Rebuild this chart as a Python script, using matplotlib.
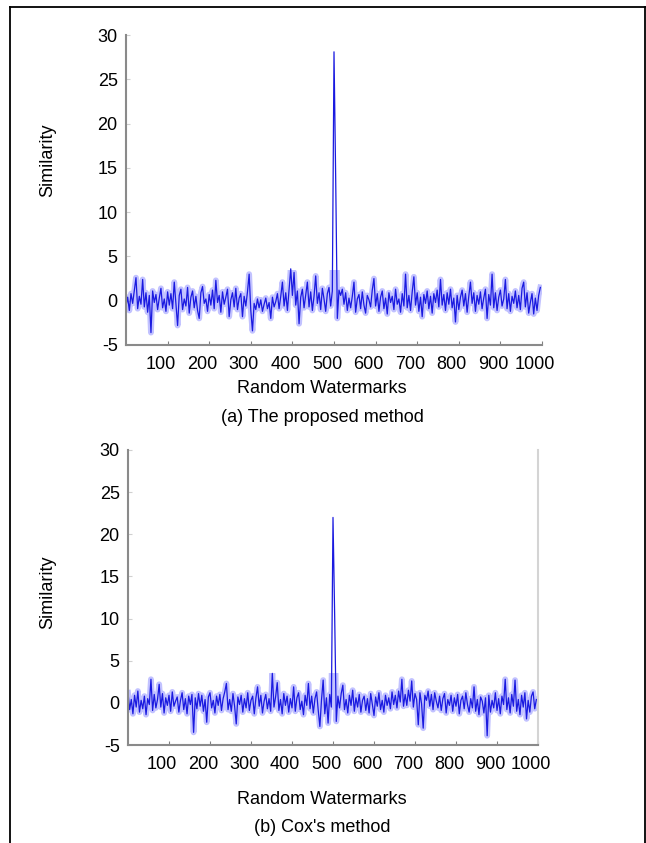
import numpy as np
import matplotlib
matplotlib.use("Agg")
import matplotlib.pyplot as plt
import matplotlib.transforms as mtransforms
from matplotlib.lines import Line2D
from matplotlib.patches import Rectangle

plt.rcParams['font.family'] = ['Liberation Sans', 'DejaVu Sans']
plt.rcParams['axes.unicode_minus'] = False

# similarity of each random watermark (every 4th watermark)
similitud_propuesto = [
    -0.6, 0.4, -1.1, 0.8, -0.3, 1.2, 2.6, -0.9, 0.5, -0.4,
    2.4, -0.7, 0.9, -1.3, 0.6, -3.6, 1.1, -0.2, 0.7, -1.0,
    0.3, 1.4, -0.8, 0.2, -1.2, 1.0, -0.5, 0.8, -0.9, 2.1,
    -0.4, -2.8, 0.6, 1.3, -1.0, 0.2, -0.6, 1.5, -1.4, 0.4,
    1.1, -0.8, 0.5, -1.1, -2.0, 0.9, 1.6, -0.3, 0.2, -1.2,
    0.7, -0.5, 1.2, -0.9, 2.3, -0.2, 0.6, -1.3, 1.0, -0.4,
    0.4, 1.3, -1.8, 0.1, 0.9, -0.7, 1.4, -1.0, 0.3, 0.8,
    -1.8, 0.5, -0.6, 1.0, 3.0, -1.1, -3.4, -0.3, -1.0, 0.2,
    -0.8, 0.1, -1.2, -0.4, 0.3, -0.9, -0.2, -2.0, 0.4, -0.7,
    -0.1, 0.8, -0.9, 0.5, 2.1, -0.6, 0.9, -1.1, 1.2, 3.6,
    0.6, 3.2, -0.5, 1.1, -2.6, 0.4, 1.3, -0.8, 0.7, 2.1,
    -0.7, 1.0, -1.1, 0.5, 2.8, -0.3, 0.9, -1.0, 1.4, 0.2,
    -1.2, 0.8, 1.5, -0.6, 1.1, 28.1, 14.0, -2.0, 1.2, 0.6,
    1.3, -0.4, 0.9, -1.1, 0.3, -0.8, 0.5, 2.1, -1.3, 0.2,
    0.7, -0.9, 1.0, -0.5, -1.4, 0.6, 0.1, -0.7, 1.2, 2.5,
    -0.6, 0.8, -1.2, 0.4, 1.1, -0.9, 0.3, -1.5, 0.9, -0.2,
    0.5, -1.0, 1.3, -0.4, 0.2, -1.3, 0.8, -0.6, 3.0, -0.8,
    0.6, -1.1, 1.0, 2.7, -0.5, 0.9, -1.2, 0.4, -1.8, 0.7,
    -0.3, 1.1, -0.9, 0.5, -1.4, 0.8, -0.2, 1.2, -0.7, 2.4,
    -0.5, 0.7, -1.1, 0.9, -0.4, 1.3, -0.8, 0.3, -2.4, 0.6,
    -1.0, 0.4, 1.2, -0.6, 0.8, -1.3, 0.5, 2.1, -0.3, 0.9,
    -1.2, 0.6, -0.4, 1.0, -0.9, 0.3, 1.3, -2.0, 0.7, -0.5,
    3.0, -0.8, 0.9, -1.1, 0.4, 1.2, -0.6, 0.2, 2.4, -0.9,
    0.8, -1.2, 0.5, -0.3, 1.1, -0.8, 0.6, -1.0, 1.4, 2.1,
    -0.7, 0.9, -1.4, -0.2, 0.8, -1.5, 0.3, -1.1, 0.6, 1.5,
]

similitud_cox = [
    1.2, -0.8, 0.4, -1.3, 0.9, -0.5, 1.4, -1.1, 0.3, -0.7,
    0.8, -1.4, 0.5, -0.2, 2.8, -0.9, 1.0, -0.6, 0.4, 2.2,
    -0.5, 1.1, -1.2, 0.6, -0.3, 0.9, -1.0, 1.3, -0.4, 0.2,
    0.7, -1.1, 0.3, 1.2, -0.8, 0.5, -1.3, 0.8, -0.2, 1.0,
    -3.5, 0.6, -0.7, 1.1, -0.4, 0.9, -1.0, 0.4, -2.3, 0.7,
    1.2, -0.6, 0.3, -1.2, 0.8, -0.3, 1.0, -0.9, 0.5, 1.3,
    2.3, -0.8, 0.4, -1.0, 1.1, -0.4, -2.5, 0.7, -0.2, 0.9,
    -1.1, 0.5, -0.6, 1.2, -0.9, 0.3, 0.8, -1.3, 0.6, 1.9,
    -0.4, 0.9, -1.2, 0.2, 1.0, -0.7, 0.5, -1.0, 3.5, -0.5,
    0.7, 2.4, -0.9, 0.4, -1.3, 1.1, -0.3, 0.8, -1.1, 0.5,
    -0.6, 1.9, -1.0, 0.6, 1.2, -0.8, 0.2, -1.4, 0.9, -0.3,
    2.3, -0.7, 0.8, -1.2, 0.5, 1.3, -0.9, -2.8, 0.4, 2.7,
    -1.3, 0.6, -2.4, 1.0, -0.5, 22.0, 10.5, -2.2, 0.8, -0.6,
    1.1, 2.1, -0.8, 0.4, -1.2, 0.9, -0.3, 1.5, -1.0, 0.6,
    -0.5, 1.0, -1.1, 0.3, 0.8, -0.9, 0.5, -1.2, 1.1, -0.2,
    -1.5, 0.7, -0.4, 1.2, -0.8, 0.3, -1.1, 0.9, -0.3, 0.6,
    -0.7, 1.3, -0.2, 0.9, -0.6, 1.4, 0.1, 2.8, -0.4, 1.0,
    -0.3, 1.5, 0.2, 2.6, -0.5, 1.1, 0.4, -2.6, 1.2, -0.1,
    -3.0, 0.9, 0.3, 1.4, -0.4, 1.0, -0.8, 1.2, 0.2, -0.6,
    0.8, -0.9, 0.5, 1.1, -1.2, 0.4, -0.3, 0.9, -1.0, 0.6,
    -0.4, 1.0, -1.3, 0.3, 0.8, -0.7, 1.2, -0.2, -1.1, 0.5,
    -0.6, 1.9, -1.0, 0.4, -1.4, 0.7, 0.2, -1.2, 0.6, -3.9,
    0.9, -1.1, 0.3, -0.6, 1.2, -0.9, 0.5, -1.3, 0.8, -0.2,
    2.8, -0.8, 0.6, -1.2, 1.0, -0.4, 2.7, -1.0, 0.4, -1.4,
    0.9, -0.5, 1.2, -1.9, 0.3, -1.1, 0.8, 1.3, -0.7, 0.4,
]

paso = 4  # one value every 4 watermarks
ticks_x = [100, 200, 300, 400, 500, 600, 700, 800, 900, 1000]
ticks_y = [-5, 0, 5, 10, 15, 20, 25, 30]

W, H = 646, 843
fig = plt.figure(figsize=(W / 100, H / 100), dpi=100)

# marco exterior de la figura
fig.add_artist(Line2D([10 / W, 10 / W], [0, 1 - 7 / H], color='black', lw=1.3))
fig.add_artist(Line2D([10 / W, 1], [1 - 7 / H, 1 - 7 / H], color='black', lw=1.3))
fig.add_artist(Line2D([645 / W, 645 / W], [0, 1 - 7 / H], color='black', lw=1.3))


def dibujar(rect, datos, xlabel_y, caption_y, ylabel_y, caption, caja):
    ax = fig.add_axes(rect)
    x = np.arange(len(datos)) * paso
    # halo claro solo en la banda de ruido, imita el borroso del original
    halo, = ax.plot(x, datos, color='#7878ff', lw=4.2, alpha=0.45)
    halo.set_clip_path(Rectangle((0, -5), 1000, 8.5, transform=ax.transData))
    ax.plot(x, datos, color='#1a1ae0', lw=0.9)
    ax.set_xlim(0, 1000)
    ax.set_ylim(-5, 30)
    ax.set_xticks(ticks_x)
    ax.set_yticks(ticks_y)
    ax.tick_params(axis='both', direction='in', length=3, labelsize=13,
                   labelcolor='black')
    ax.tick_params(axis='x', pad=8, color='#808080')
    ax.tick_params(axis='y', pad=6, color='#d0d0d0')
    # las etiquetas del eje x quedan un poco a la izquierda en el original
    desplazar = mtransforms.ScaledTranslation(-7 / 100, 0, fig.dpi_scale_trans)
    for lab in ax.get_xticklabels():
        lab.set_transform(lab.get_transform() + desplazar)
    for lado in ['left', 'bottom']:
        ax.spines[lado].set_color('#8a8a8a')
        ax.spines[lado].set_linewidth(1.5)
    ax.spines['top'].set_visible(False)
    if caja:
        ax.spines['right'].set_color('#d4d4d4')
        ax.spines['right'].set_linewidth(1.5)
    else:
        ax.spines['right'].set_visible(False)
    fig.text(48 / W, 1 - ylabel_y / H, 'Similarity', rotation=90,
             ha='center', va='center', fontsize=13)
    fig.text(322 / W, 1 - xlabel_y / H, 'Random Watermarks',
             ha='center', va='center', fontsize=13)
    fig.text(322 / W, 1 - caption_y / H, caption,
             ha='center', va='center', fontsize=13)
    return ax


dibujar([126 / W, 1 - 345 / H, 416 / W, 310 / H], similitud_propuesto,
        389, 417, 160, '(a) The proposed method', False)
dibujar([128 / W, 1 - 745 / H, 410 / W, 295 / H], similitud_cox,
        799, 827, 592, "(b) Cox's method", True)

plt.savefig('out.png', dpi=100)
